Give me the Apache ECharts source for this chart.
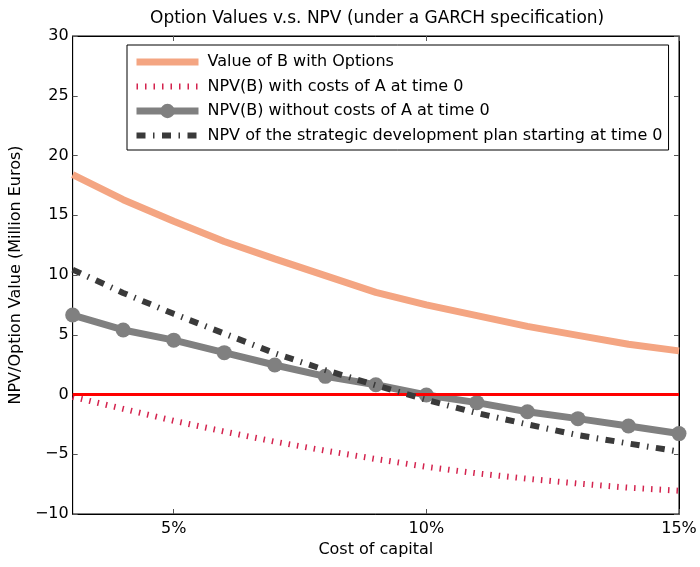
<!DOCTYPE html>
<html><head><meta charset="utf-8">
<script src="https://cdn.jsdelivr.net/npm/echarts@6/dist/echarts.min.js"></script>
<style>html,body{margin:0;padding:0;background:#fff}#c{width:700px;height:567px}</style>
</head><body><div id="c"></div>
<script>
const costOfCapital = [3, 4, 5, 6, 7, 8, 9, 10, 11, 12, 13, 14, 15];
const valueWithOptions = [18.4, 16.3, 14.5, 12.8, 11.35, 9.95, 8.55, 7.5, 6.6, 5.7, 4.95, 4.2, 3.65];
const npvWithCostsA = [-0.2, -1.2, -2.2, -3.1, -3.95, -4.7, -5.4, -6.05, -6.6, -7.05, -7.45, -7.8, -8.05];
const npvWithoutCostsA = [6.65, 5.4, 4.55, 3.5, 2.47, 1.52, 0.82, -0.04, -0.68, -1.44, -2.02, -2.64, -3.27];
const npvStrategic = [10.45, 8.5, 6.75, 5.1, 3.45, 2.05, 0.77, -0.45, -1.55, -2.5, -3.4, -4.1, -4.78];
const xTickValues = [5, 10, 15];
const seriesNames = [
  'Value of B with Options',
  'NPV(B) with costs of A at time 0',
  'NPV(B) without costs of A at time 0',
  'NPV of the strategic development plan starting at time 0'
];
const FONT = 'DejaVu Sans';
const pairs = ys => costOfCapital.map((x, i) => [x, ys[i]]);

const tickStyle = { inside: true, length: 5, lineStyle: { color: '#555', width: 1 } };
const axisLineStyle = { show: true, onZero: false, lineStyle: { color: '#000', width: 1 } };
const chart = echarts.init(document.getElementById('c'), null, { renderer: 'canvas' });
chart.setOption({
  animation: false,
  backgroundColor: '#fff',
  title: {
    text: 'Option Values v.s. NPV (under a GARCH specification)',
    left: 145, top: 5,
    textStyle: { fontFamily: FONT, fontSize: 17, fontWeight: 'normal', color: '#000' }
  },
  grid: { left: 71, right: 21, top: 36, bottom: 53, show: true, borderColor: '#000', borderWidth: 1, backgroundColor: 'transparent' },
  legend: {
    orient: 'vertical', left: 127, top: 45,
    itemWidth: 62, itemHeight: 18, itemGap: 6.5,
    padding: [8, 6, 5.5, 6],
    borderColor: '#000', borderWidth: 1, backgroundColor: '#fff',
    textStyle: { fontFamily: FONT, fontSize: 16, color: '#000', lineHeight: 18, padding: [0, 0, 0, 4] },
    data: [
      { name: seriesNames[0], itemStyle: { opacity: 0 }, lineStyle: { width: 7 } },
      { name: seriesNames[1], itemStyle: { opacity: 0 }, lineStyle: { width: 6, type: [1.5, 7] } },
      { name: seriesNames[2], lineStyle: { width: 7 } },
      { name: seriesNames[3], itemStyle: { opacity: 0 }, lineStyle: { width: 6, type: [9, 7.5, 1.5, 7.5] } }
    ],
    selectedMode: false
  },
  xAxis: [
    {
      type: 'value', min: 3, max: 15, position: 'bottom',
      name: 'Cost of capital', nameLocation: 'middle', nameGap: 27,
      nameTextStyle: { fontFamily: FONT, fontSize: 16, color: '#000' },
      axisLine: axisLineStyle,
      axisTick: Object.assign({ customValues: xTickValues }, tickStyle),
      axisLabel: { customValues: xTickValues, formatter: v => v + '%', fontFamily: FONT, fontSize: 16, color: '#000', margin: 7 },
      splitLine: { show: false }
    },
    {
      type: 'value', min: 3, max: 15, position: 'top',
      axisLine: axisLineStyle,
      axisTick: Object.assign({ customValues: xTickValues }, tickStyle),
      axisLabel: { show: false },
      splitLine: { show: false }
    }
  ],
  yAxis: [
    {
      type: 'value', min: -10, max: 30, interval: 5, position: 'left',
      name: 'NPV/Option Value (Million Euros)', nameLocation: 'middle', nameGap: 42,
      nameTextStyle: { fontFamily: FONT, fontSize: 16, color: '#000' },
      axisLine: axisLineStyle,
      axisTick: tickStyle,
      axisLabel: { formatter: v => String(v).replace('-', '\u2212'), fontFamily: FONT, fontSize: 16, color: '#000', margin: 4 },
      splitLine: { show: false }
    },
    {
      type: 'value', min: -10, max: 30, interval: 5, position: 'right',
      axisLine: axisLineStyle,
      axisTick: tickStyle,
      axisLabel: { show: false },
      splitLine: { show: false }
    }
  ],
  series: [
    {
      name: seriesNames[0], type: 'line', data: pairs(valueWithOptions),
      symbol: 'none', color: '#f4a582',
      lineStyle: { color: '#f4a582', width: 7 }, z: 2
    },
    {
      name: seriesNames[1], type: 'line', data: pairs(npvWithCostsA),
      symbol: 'none', color: '#d4234e',
      lineStyle: { color: '#d4234e', width: 6, type: [1.5, 7], cap: 'butt' }, z: 3
    },
    {
      name: seriesNames[2], type: 'line', data: pairs(npvWithoutCostsA),
      symbol: 'circle', symbolSize: 15, showSymbol: true, color: '#808080',
      itemStyle: { color: '#808080' },
      lineStyle: { color: '#808080', width: 7 }, z: 4
    },
    {
      name: seriesNames[3], type: 'line', data: pairs(npvStrategic),
      symbol: 'none', color: '#3a3a3a',
      lineStyle: { color: '#3a3a3a', width: 6, type: [9, 7.5, 1.5, 7.5], cap: 'butt' }, z: 5
    },
    {
      name: 'zero', type: 'line', data: [], z: 6, silent: true,
      markLine: {
        silent: true, symbol: 'none', label: { show: false },
        lineStyle: { color: '#ff0000', width: 3, type: 'solid' },
        data: [{ yAxis: 0 }]
      }
    }
  ]
});
</script></body></html>
